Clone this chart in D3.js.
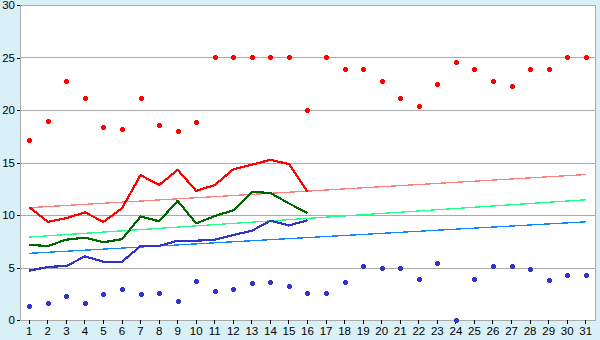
<!DOCTYPE html>
<html>
<head>
<meta charset="utf-8">
<script src="https://cdn.jsdelivr.net/npm/d3@7"></script>
<style>
body { margin: 0; background: #d9f0f6; }
svg text { font-family: "Liberation Sans", Arial, sans-serif; font-size: 11.5px; fill: #000; }
</style>
</head>
<body>
<div id="chart"></div>
<script>
var days = d3.range(1, 32);
var yTicks = [0, 5, 10, 15, 20, 25, 30];

// daily points
var maxPoints = [17.1, 19.0, 22.8, 21.1, 18.4, 18.2, 21.1, 18.6, 18.0, 18.9,
    25.0, 25.0, 25.0, 25.0, 25.0, 20.0, 25.0, 23.9, 23.9, 22.8,
    21.1, 20.35, 22.45, 24.6, 23.9, 22.8, 22.25, 23.9, 23.9, 25.0, 25.0];
var minPoints = [1.3, 1.6, 2.25, 1.6, 2.45, 3.0, 2.45, 2.55, 1.85, 3.7,
    2.8, 3.0, 3.5, 3.6, 3.2, 2.6, 2.6, 3.6, 5.1, 5.0,
    5.0, 3.95, 5.4, 0, 3.95, 5.1, 5.1, 4.85, 3.85, 4.25, 4.25];

// lines for days 1..16
var redLine = [10.75, 9.35, 9.7, 10.25, 9.35, 10.65, 13.8, 12.85, 14.3, 12.3,
    12.85, 14.35, 14.8, 15.25, 14.85, 12.2];
var greenLine = [7.15, 7.05, 7.65, 7.85, 7.4, 7.7, 9.85, 9.4, 11.35, 9.2,
    9.9, 10.45, 12.2, 12.1, 11.1, 10.2];
var blueLine = [4.7, 5.05, 5.15, 6.05, 5.55, 5.55, 7.05, 7.05, 7.55, 7.55,
    7.65, 8.1, 8.5, 9.45, 9.0, 9.5];

// trend lines (value at day 1, value at day 31)
var redTrend = [10.7, 13.85];
var greenTrend = [7.9, 11.45];
var blueTrend = [6.35, 9.35];

var w = 600, h = 340;
var padLeft = 20, padRight = 595, padTop = 5, padBottom = 320;

var svg = d3.select("#chart").append("svg").attr("width", w).attr("height", h);

var xScale = d3.scaleBand().domain(days).range([padLeft, padRight]);
var xPos = function(d) { return xScale(d) + xScale.bandwidth() / 2; };
var yScale = d3.scaleLinear().domain([0, 30]).range([padBottom, padTop]);

svg.append("rect").attr("x", padLeft).attr("y", padTop)
    .attr("width", padRight - padLeft).attr("height", padBottom - padTop)
    .attr("fill", "#fff").attr("stroke", "#aaa").attr("shape-rendering", "crispEdges");

// grid
svg.append("g").selectAll("line").data(yTicks).enter().append("line")
    .attr("x1", padLeft).attr("x2", padRight)
    .attr("y1", function(d) { return Math.round(yScale(d)) + 0.5; })
    .attr("y2", function(d) { return Math.round(yScale(d)) + 0.5; })
    .attr("stroke", "#aaa").attr("shape-rendering", "crispEdges");

// axes
var xAxis = d3.axisBottom(xScale).tickSize(4).tickSizeOuter(0).tickPadding(3);
var yAxis = d3.axisLeft(yScale).tickValues(yTicks).tickSize(3).tickSizeOuter(0).tickPadding(2);
var gx = svg.append("g").attr("transform", "translate(0," + padBottom + ")").call(xAxis);
var gy = svg.append("g").attr("transform", "translate(" + padLeft + ",0)").call(yAxis);
[gx, gy].forEach(function(g) {
    g.selectAll("line,path").attr("stroke", "#000").attr("shape-rendering", "crispEdges");
    g.select(".domain").attr("stroke", "#aaa");
    g.selectAll("text").attr("font-family", null).attr("font-size", null);
});

// trend lines
function trend(vals, color) {
    svg.append("line")
        .attr("x1", xPos(1)).attr("x2", xPos(31))
        .attr("y1", yScale(vals[0])).attr("y2", yScale(vals[1]))
        .attr("stroke", color).attr("stroke-width", 1.3)
        .attr("shape-rendering", "crispEdges");
}
trend(redTrend, "#ff8080");
trend(greenTrend, "#22ff88");
trend(blueTrend, "#1188ff");

var line = d3.line()
    .x(function(d, i) { return xPos(days[i]); })
    .y(function(d) { return yScale(d); });

function series(vals, color) {
    svg.append("path").datum(vals).attr("d", line)
        .attr("fill", "none").attr("stroke", color).attr("stroke-width", 2.2)
        .attr("stroke-linejoin", "round")
        .attr("shape-rendering", "crispEdges");
}
series(redLine, "#ff0000");
series(greenLine, "#006600");
series(blueLine, "#3333cc");

var marker = "M-2.5,-1.5h5v3h-5z M-1.5,-2.5h3v5h-3z";
function points(vals, color) {
    svg.append("g").selectAll("path").data(vals).enter().append("path")
        .attr("d", marker)
        .attr("transform", function(d, i) {
            return "translate(" + Math.round(xPos(days[i])) + "," + Math.round(yScale(d)) + ")";
        })
        .attr("fill", color).attr("shape-rendering", "crispEdges");
}
points(maxPoints, "#ff0000");
points(minPoints, "#3333cc");
</script>
</body>
</html>
